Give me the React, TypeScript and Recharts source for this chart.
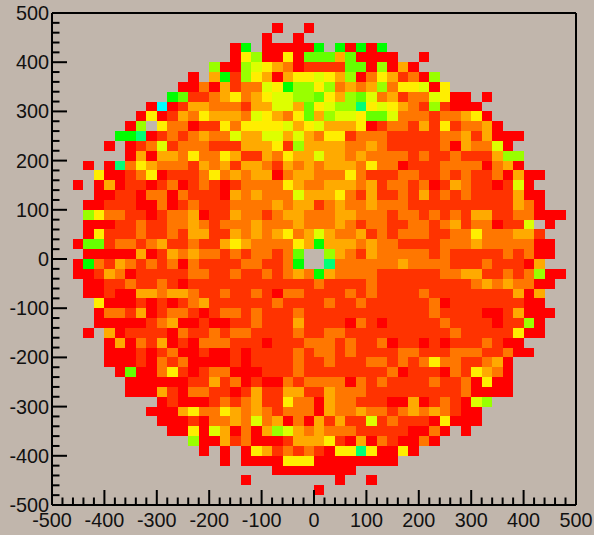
import React from 'react';
import { ScatterChart, Scatter, XAxis, YAxis, ReferenceLine } from 'recharts';

const W = 594;
const H = 535;
const PLOT = { left: 52, top: 13, right: 576, bottom: 505 };
const CELL_W = (PLOT.right - PLOT.left) / 50;
const CELL_H = (PLOT.bottom - PLOT.top) / 50;
const BG = '#c1b6ac';

const tickValues = [-500,-480,-460,-440,-420,-400,-380,-360,-340,-320,-300,-280,-260,-240,-220,-200,-180,-160,-140,-120,-100,-80,-60,-40,-20,0,20,40,60,80,100,120,140,160,180,200,220,240,260,280,300,320,340,360,380,400,420,440,460,480,500];

const palette: Record<string, string> = {
  R: '#ff0000', r: '#ff3300', O: '#ff7700', A: '#ffaa00', Y: '#ffee00', L: '#ddff00',
  G: '#99ff00', H: '#66ff00', F: '#00ff00', S: '#00ff77', C: '#00ffff',
};

// colour level of each 20x20 bin, west half (x -500..0), top row first
const westRows = [
  '.........................',
  '.....................R..R',
  '....................R..R.',
  '.................RF.RRRRR',
  '.................RYGRRYRH',
  '...............GRRGLYAORr',
  '.............R.AFrGYARAYY',
  '............RRORArOOLYFGG',
  '...........FHrrOAYOAYLLGG',
  '.........RCRrAAOOOrAALLAH',
  '........RYRrAOYAAAOLYAOYH',
  '.......RG.YOORrrYOYYYYLAY',
  '......FFSRrOrOAOOLAALLALA',
  '.....R.RrOLrOOOrrrAAAYrGA',
  '.......RARAAOYOOYArrAOYAA',
  '...R.RSOYAOOOrAOArAAOrAOA',
  '....YRRrOYRrrrOYOAOAAROAA',
  '..R.RARrrRrORrOrRrOOOOYAO',
  '....RRrrROOROrrrRAOAOOOLA',
  '...RRrrrRRORrOrrrOOOOAOAA',
  '...GYOOrrRrOOARrrAOOrOAAO',
  '...RRRrrOrrOOAOrOOOAOOOAO',
  '...RYrrrOrrOrAArrAOAOAYOA',
  '..RHHrOOrOArrOrrAYAOOOOYA',
  '...RRRRRARrAOAOOrOrOOrOH.',
  '..RFOrAOrOrOROrrrrOOrrOF.',
  '..RRrAORrrrrrOOrrOrrOrOAO',
  '...RRrrOrrOrRrrrrrrrrrrrr',
  '...RRrRRAAOAAOrrOrrOrROOr',
  '....YRRRrRrRrOArrrrrrOrrr',
  '....ROOrARrOOrRrOOrOrrrOr',
  '....RRRRRrOARRrRRrrOrrrAr',
  '...R.ARrrrrROrrOrOOrrrrOr',
  '.....RAROrARrROOOrrrRrrrO',
  '.....RRRrRrORRrRRrRrrrrOr',
  '.....RRRrROrORRRRrRrrrrOr',
  '......RHRROYrRrOORRRrrrOr',
  '.......RRRRRRrrArORrRROrO',
  '.......RRRArROOrrRrArrAAr',
  '..........RrRRRrOrOArrYOO',
  '.........RRRAYOOYAOAOrOOO',
  '..........RRRrROOAOLOAROR',
  '...........RRYRLARORAGLAO',
  '.............GRRArORRRrAA',
  '..............R.R.RYArOrO',
  '................R.RRRRYYY',
  '.....................RRRR',
  '..................R......',
  '.........................',
  '.........................',
];

// colour level of each bin, east half (x 0..500), top row first
const eastRows = [
  '', '', '',
  'F.FRFRF',
  'HHAHRRRR..R',
  'rrrHHRGRAR',
  'LYAGROYArORG',
  'YGOAOAGOYYLRY',
  'HYAGHLOArOOLYRR.R',
  'YLGGSYLYAOrGrRRR',
  'AGLLYHHLOOOrOOAYR',
  'LAAAYRrOOrArYrOOAR',
  'OYYrOOOrrrrrOOArARRR',
  'AAAOOAOrrrrrORAOOLR',
  'LAAOAOOOOrOrrOrrrAGG',
  'OAAAOYOORrrrOOOOROAR',
  'OOOYOrrrOOrrOrOrrORARR',
  'OAAAOArOOrORrAOrrRrLR',
  'AAYOrArrOrArOrOrrrrARR',
  'rOAOOAOOOrrrrrrrrrrAOR',
  'OOAAOOOrOOrOrOrAArrOORRR',
  'OOAOrOOrrOOrOArOORrrL.R',
  'LAOOArOrOOOrrOOYOOOAAr',
  'FAAAOAOOrrrrOOOAOOOOORR',
  '.GAOrAOOOOOrOrrrrrOrORR',
  '.SOOOOOOAOOOOrrrOrrrRA',
  'FAOOOOrrrrrrOOAArrOrOGRR',
  'OrrrrOrrrrrrrrrOAOAOORR',
  'rrrOrOrrrrOrrrrrrrrARA',
  'rOrrOrrrrrrORrrrrrrrRR',
  'rrrrrrrrrrrOrrrrRRrARRR',
  'rrrROrRrrrrrOrrrrRrrGR',
  'rOOrrrrrrrrrrOrrrrrYRR',
  'OOrOrrORrrRrRrrrOrRR',
  'OOrOrrrrOOrrrOOOrrORR',
  'rOrrrOOrOrOYOOrrOAR',
  'rrrrrrrORrrrROrYAOR',
  'OOOROrOrrrrOrrORYRR',
  'rAOOOrrrrrrrrrORRRR',
  'RAOOrrrRRARrOrRLG',
  'RAOOAOOrOAOAOrRR',
  'ArArrLrOrrrRYRRR',
  'AOOOrrrrrRROR.R',
  'AYrRAROrRROR',
  'rRYYSYRRYR',
  'RRRRRRRR',
  'RRRR',
  '..R..R',
  'R',
  '',
];

type Bin = { x: number; y: number };
const binsByLevel: Record<string, Bin[]> = {};
westRows.forEach((west, r) => {
  const row = west + eastRows[r];
  for (let c = 0; c < row.length; c++) {
    const code = row[c];
    if (code === '.') continue;
    (binsByLevel[code] = binsByLevel[code] || []).push({ x: -490 + 20 * c, y: 490 - 20 * r });
  }
});

const Cell = (props: any) => {
  const { cx, cy, fill } = props;
  const x0 = Math.round(cx - CELL_W / 2);
  const x1 = Math.round(cx + CELL_W / 2);
  const y0 = Math.round(cy - CELL_H / 2);
  const y1 = Math.round(cy + CELL_H / 2);
  return <rect x={x0} y={y0} width={x1 - x0} height={y1 - y0} fill={fill} shapeRendering="crispEdges" />;
};

const FONT = '"Liberation Sans", Arial, sans-serif';
const FONT_SIZE = 19.8;

const XTick = (props: any) => {
  const { x, payload } = props;
  const v = payload.value;
  const major = v % 100 === 0;
  return (
    <g>
      <line x1={x} x2={x} y1={PLOT.bottom} y2={PLOT.bottom - (major ? 15 : 7.5)} stroke="#000" strokeWidth={2} />
      {major && (
        <text x={x} y={527} textAnchor="middle" fontFamily={FONT} fontSize={FONT_SIZE} fill="#111">{String(v)}</text>
      )}
    </g>
  );
};

const YTick = (props: any) => {
  const { y, payload } = props;
  const v = payload.value;
  const major = v % 100 === 0;
  return (
    <g>
      <line x1={PLOT.left} x2={PLOT.left + (major ? 15 : 7.5)} y1={y} y2={y} stroke="#000" strokeWidth={2} />
      {major && (
        <text x={49} y={y + 7} textAnchor="end" fontFamily={FONT} fontSize={FONT_SIZE} fill="#111">{String(v)}</text>
      )}
    </g>
  );
};

export default function App() {
  return (
    <div style={{ position: 'absolute', left: 0, top: 0, width: W, height: H, background: BG, overflow: 'hidden' }}>
      <ScatterChart
        width={W}
        height={H}
        margin={{ top: PLOT.top, right: W - PLOT.right, bottom: 0, left: 0 }}
      >
        <XAxis
          xAxisId={0}
          type="number"
          dataKey="x"
          domain={[-500, 500]}
          ticks={tickValues}
          interval={0}
          height={H - PLOT.bottom}
          tickSize={0}
          tickMargin={0}
          tickLine={false}
          tick={<XTick />}
          axisLine={{ stroke: '#000', strokeWidth: 2 }}
        />
        <YAxis
          yAxisId={0}
          type="number"
          dataKey="y"
          domain={[-500, 500]}
          ticks={tickValues}
          interval={0}
          width={PLOT.left}
          tickSize={0}
          tickMargin={0}
          tickLine={false}
          tick={<YTick />}
          axisLine={{ stroke: '#000', strokeWidth: 2 }}
        />
        {Object.keys(binsByLevel).map((code) => (
          <Scatter
            key={code}
            xAxisId={0}
            yAxisId={0}
            data={binsByLevel[code]}
            fill={palette[code]}
            shape={<Cell />}
            isAnimationActive={false}
          />
        ))}
        <ReferenceLine xAxisId={0} yAxisId={0} x={500} stroke="#000" strokeWidth={2} />
        <ReferenceLine xAxisId={0} yAxisId={0} y={500} stroke="#000" strokeWidth={2} />
      </ScatterChart>
    </div>
  );
}
